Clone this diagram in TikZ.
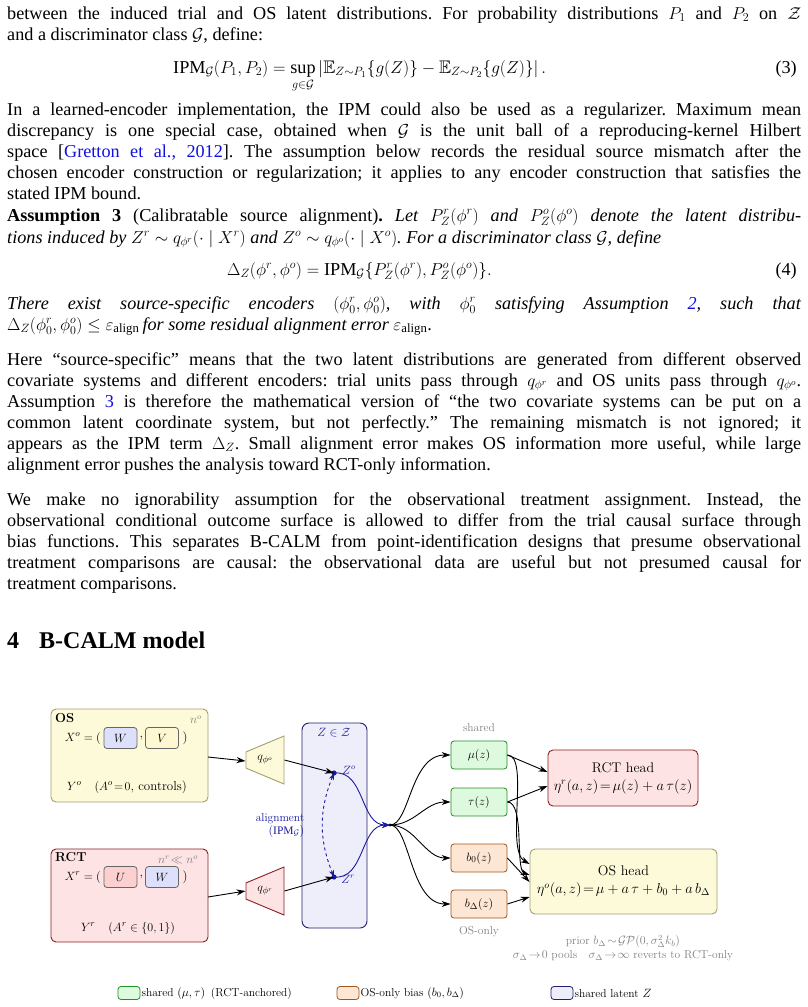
\documentclass[tikz,border=0pt]{standalone}
\usepackage{amsmath,amssymb}
\usepackage{fontspec}
\setmainfont{Liberation Serif}
\newfontfamily\lmf{Latin Modern Roman}
\usetikzlibrary{arrows.meta,shapes.geometric}
\frenchspacing
\definecolor{osfill}{HTML}{FDFAD9}\definecolor{osdraw}{HTML}{A39E70}
\definecolor{rctfill}{HTML}{FDE3E4}\definecolor{rctdraw}{HTML}{8B1E1E}
\definecolor{latfill}{HTML}{EEEEFB}\definecolor{latdraw}{HTML}{1F1F6E}
\definecolor{grfill}{HTML}{DEFADE}\definecolor{grdraw}{HTML}{22902A}
\definecolor{orfill}{HTML}{FDE6D3}\definecolor{ordraw}{HTML}{A0561C}
\definecolor{wfill}{HTML}{DDE0FA}\definecolor{ufill}{HTML}{FCCFD0}\definecolor{vfill}{HTML}{FDF8D2}
\definecolor{navy}{HTML}{1A1AA0}\definecolor{linkblue}{HTML}{1010E0}
\newcommand\jline[2]{\node[anchor=base west,inner sep=0] at (7,#1) {\makebox[794pt][s]{#2}};}
\newcommand\lline[2]{\node[anchor=base west,inner sep=0] at (7,#1) {#2};}
\begin{document}
\begin{tikzpicture}[x=1pt,y=-1pt,
  txt/.style={font=\fontsize{18.2}{21}\selectfont},
  dg/.style={font=\lmf\fontsize{13}{15}\selectfont},
  sm/.style={font=\lmf\fontsize{11.5}{13}\selectfont},
  rbox/.style={draw,rounded corners=5pt,line width=0.9pt},
  fbox/.style={draw,rounded corners=3pt,line width=0.8pt,minimum width=56pt,minimum height=28pt,inner sep=0,dg},
  cbox/.style={draw=gray!80!black,rounded corners=3pt,line width=0.8pt,minimum width=33pt,minimum height=21pt,inner sep=0,dg},
  arr/.style={-{Stealth[length=9pt,width=6pt]},line width=0.9pt},
  enc/.style={trapezium,shape border rotate=90,draw,line width=0.9pt,minimum width=48pt,minimum height=38pt,trapezium stretches=true,inner sep=0,dg}]
\useasboundingbox (0,0) rectangle (808,1007);
\begin{scope}[txt]
\jline{19}{between the induced trial and OS latent distributions. For probability distributions $P_1$ and $P_2$ on $\mathcal{Z}$}
\lline{40}{and a discriminator class $\mathcal{G}$, define:}
\node[anchor=base west,inner sep=0] at (173,73) {$\displaystyle \mathrm{IPM}_{\mathcal G}(P_1,P_2)=\sup_{g\in\mathcal G}\left|\mathbb{E}_{Z\sim P_1}\{g(Z)\}-\mathbb{E}_{Z\sim P_2}\{g(Z)\}\right|.$};
\node[anchor=base east,inner sep=0] at (797,73) {(3)};
\jline{115}{In a learned-encoder implementation, the IPM could also be used as a regularizer. Maximum mean}
\jline{136}{discrepancy is one special case, obtained when $\mathcal G$ is the unit ball of a reproducing-kernel Hilbert}
\jline{157}{space [\textcolor{linkblue}{Gretton et al., 2012}]. The assumption below records the residual source mismatch after the}
\jline{178}{chosen encoder construction or regularization; it applies to any encoder construction that satisfies the}
\lline{199}{stated IPM bound.}
\jline{221}{\textbf{Assumption 3} (Calibratable source alignment)\textbf{.} \textit{Let $P^r_Z(\phi^r)$ and $P^o_Z(\phi^o)$ denote the latent distribu-}}
\lline{243}{\textit{tions induced by $Z^r\sim q_{\phi^r}(\cdot\mid X^r)$ and $Z^o\sim q_{\phi^o}(\cdot\mid X^o)$. For a discriminator class $\mathcal G$, define}}
\node[anchor=base west,inner sep=0] at (227,275) {$\Delta_Z(\phi^r,\phi^o)=\mathrm{IPM}_{\mathcal G}\{P^r_Z(\phi^r),P^o_Z(\phi^o)\}.$};
\node[anchor=base east,inner sep=0] at (797,275) {(4)};
\jline{309}{\textit{There exist source-specific encoders $(\phi^r_0,\phi^o_0)$, with $\phi^r_0$ satisfying Assumption \textcolor{linkblue}{2}, such that}}
\lline{330}{$\Delta_Z(\phi^r_0,\phi^o_0)\le\varepsilon_{\mathrm{align}}$\,\textit{for some residual alignment error} $\varepsilon_{\mathrm{align}}$.}
\jline{365}{Here “source-specific” means that the two latent distributions are generated from different observed}
\jline{386}{covariate systems and different encoders: trial units pass through $q_{\phi^r}$ and OS units pass through $q_{\phi^o}$.}
\jline{407}{Assumption \textcolor{linkblue}{3} is therefore the mathematical version of “the two covariate systems can be put on a}
\jline{428}{common latent coordinate system, but not perfectly.” The remaining mismatch is not ignored; it}
\jline{449}{appears as the IPM term $\Delta_Z$. Small alignment error makes OS information more useful, while large}
\lline{470}{alignment error pushes the analysis toward RCT-only information.}
\jline{505}{We make no ignorability assumption for the observational treatment assignment. Instead, the}
\jline{526}{observational conditional outcome surface is allowed to differ from the trial causal surface through}
\jline{547}{bias functions. This separates B-CALM from point-identification designs that presume observational}
\jline{568}{treatment comparisons are causal: the observational data are useful but not presumed causal for}
\lline{589}{treatment comparisons.}
\node[anchor=base west,inner sep=0,font=\fontsize{24}{28}\selectfont\bfseries] at (7,648) {4\hspace{20pt}B-CALM model};
\end{scope}
% ---- diagram ----
\node[rbox,draw=osdraw,fill=osfill,minimum width=157pt,minimum height=93pt] (os) at (129.5,755.5) {};
\node[rbox,draw=rctdraw,fill=rctfill,minimum width=157pt,minimum height=93pt] (rct) at (129.5,895.5) {};
\node[font=\lmf\fontsize{13}{15}\selectfont\bfseries,anchor=west,inner sep=0] (osl) at (55,718) {OS};
\node[font=\lmf\fontsize{13}{15}\selectfont\bfseries,anchor=west,inner sep=0] (rctl) at (55,857) {RCT};
\node[dg,anchor=east,inner sep=0] (xo) at (101,738) {$X^o={}($};
\node[cbox,fill=wfill] (wo) at (120.5,738) {$W$};
\node[dg,inner sep=0] (co) at (141.5,738) {,};
\node[cbox,fill=vfill] (vo) at (162,738) {$V$};
\node[dg,inner sep=0] (po) at (185,738) {)};
\node[sm,text=gray] (no) at (196,720) {$n^o$};
\node[dg] (yo) at (127,787) {$Y^o$\quad$(A^o\!=\!0$, controls)};
\node[dg,anchor=east,inner sep=0] (xr) at (101,877) {$X^r={}($};
\node[cbox,fill=ufill] (ur) at (120.5,877) {$U$};
\node[dg,inner sep=0] (cr) at (141.5,877) {,};
\node[cbox,fill=wfill] (wr) at (162,877) {$W$};
\node[dg,inner sep=0] (pr) at (185,877) {)};
\node[sm,text=gray] (nr) at (178,860) {$n^r\!\ll n^o$};
\node[dg] (yr) at (128,928) {$Y^r$\quad$(A^r\in\{0,1\})$};
\node[enc,draw=osdraw,fill=osfill] (qo) at (265,760) {$q_{\phi^o}$};
\node[enc,draw=rctdraw,fill=rctfill] (qr) at (265,891) {$q_{\phi^r}$};
\node[draw=latdraw,fill=latfill,rounded corners=7pt,line width=0.9pt,minimum width=65pt,minimum height=205pt] (lat) at (334.5,825.5) {};
\node[sm,text=navy] (zl) at (334,733) {$Z\in\mathcal Z$};
\fill[navy] (334,773) circle (2.6pt) coordinate (zo);
\fill[navy] (334,877) circle (2.6pt) coordinate (zr);
\node[sm,text=navy] (zol) at (349,770) {$Z^o$};
\node[sm,text=navy] (zrl) at (348,879) {$Z^r$};
\node[sm,text=navy,align=right] (al) at (280,825) {alignment\\$(\mathrm{IPM}_{\mathcal G})$};
\draw[arr] (208,757) -- (qo.west|-0,761);
\draw[arr] (208,897) -- (qr.west|-0,891);
\draw[arr] (qo.east) -- (zo);
\draw[arr] (qr.east) -- (zr);
\draw[{Stealth[length=7pt,width=5pt]}-{Stealth[length=7pt,width=5pt]},navy,dashed,line width=0.9pt] (zo) to[bend right=22] (zr);
\coordinate (m) at (390,825);
\fill (m) circle (1.6pt);
\draw[-{Stealth[length=8pt,width=6pt]},navy,line width=0.9pt] (zo) .. controls (365,770) and (360,825) .. (m);
\draw[-{Stealth[length=8pt,width=6pt]},navy,line width=0.9pt] (zr) .. controls (365,880) and (360,825) .. (m);
\node[fbox,draw=grdraw,fill=grfill] (mu) at (479,755) {$\mu(z)$};
\node[fbox,draw=grdraw,fill=grfill] (tau) at (479,802) {$\tau(z)$};
\node[fbox,draw=ordraw,fill=orfill] (b0) at (479,858) {$b_0(z)$};
\node[fbox,draw=ordraw,fill=orfill] (bd) at (479,904) {$b_\Delta(z)$};
\node[sm,text=gray] (shl) at (479,728) {shared};
\node[sm,text=gray] (ool) at (479,932) {OS-only};
\draw[arr] (m) .. controls (410,825) and (410,755) .. (mu.west);
\draw[arr] (m) .. controls (415,825) and (425,802) .. (tau.west);
\draw[arr] (m) .. controls (415,825) and (425,858) .. (b0.west);
\draw[arr] (m) .. controls (410,825) and (410,904) .. (bd.west);
\node[rbox,draw=rctdraw,fill=rctfill,minimum width=150pt,minimum height=56pt,align=center,font=\lmf\fontsize{14}{18}\selectfont] (rh) at (623,778) {RCT head\\$\eta^r(a,z)\!=\!\mu(z)+a\,\tau(z)$};
\node[rbox,draw=osdraw,fill=osfill,minimum width=187pt,minimum height=65pt,align=center,font=\lmf\fontsize{14}{18}\selectfont] (oh) at (623.5,881.5) {OS head\\$\eta^o(a,z)\!=\!\mu+a\,\tau+b_0+a\,b_\Delta$};
\draw[arr] (mu.east) -- (rh.west|-0,772);
\draw[arr] (tau.east) -- (rh.west|-0,786);
\draw[arr] (mu.east) .. controls (530,755) and (505,850) .. (oh.west|-0,864);
\draw[arr] (tau.east) .. controls (525,802) and (515,870) .. (oh.west|-0,875);
\draw[arr] (b0.east) -- (oh.west|-0,882);
\draw[arr] (bd.east) -- (oh.west|-0,897);
\node[font=\lmf\fontsize{11.5}{14}\selectfont,text=gray,align=center] (pri) at (623,948) {prior $b_\Delta\!\sim\!\mathcal{GP}(0,\sigma^2_\Delta k_b)$\\$\sigma_\Delta\!\to\!0$ pools\quad$\sigma_\Delta\!\to\!\infty$ reverts to RCT-only};
% legend
\node[draw=grdraw,fill=grfill,rounded corners=3pt,minimum width=22pt,minimum height=13pt,inner sep=0,line width=0.8pt] (lg1) at (129,993) {};
\node[sm,anchor=west,inner sep=1pt] (lt1) at (lg1.east) {shared $(\mu,\tau)$\enspace(RCT-anchored)};
\node[draw=ordraw,fill=orfill,rounded corners=3pt,minimum width=22pt,minimum height=13pt,inner sep=0,line width=0.8pt] (lg2) at (348,993) {};
\node[sm,anchor=west,inner sep=1pt] (lt2) at (lg2.east) {OS-only bias $(b_0,b_\Delta)$};
\node[draw=latdraw,fill=latfill,rounded corners=3pt,minimum width=22pt,minimum height=13pt,inner sep=0,line width=0.8pt] (lg3) at (562,993) {};
\node[sm,anchor=west,inner sep=1pt] (lt3) at (lg3.east) {shared latent $Z$};
\end{tikzpicture}
\end{document}
